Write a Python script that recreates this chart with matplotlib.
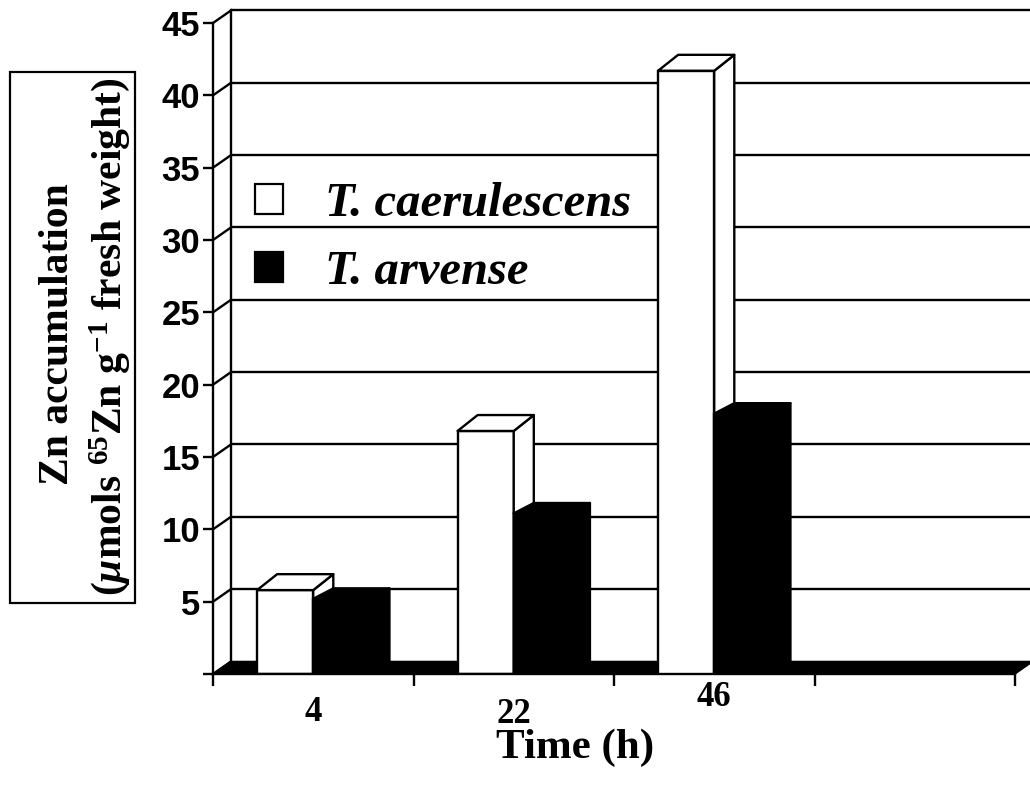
import matplotlib
matplotlib.use('Agg')
import matplotlib.pyplot as plt
from matplotlib.patches import Polygon, Rectangle, Patch
from matplotlib.transforms import offset_copy
import numpy as np

# ---- data ----
categories = ['4', '22', '46']
n_slots = 4
caerulescens = [5.8, 16.8, 41.7]
arvense = [5.2, 11.1, 18.0]
series_names = ['T. caerulescens', 'T. arvense']
yticks = [0, 5, 10, 15, 20, 25, 30, 35, 40, 45]
ytick_labels = ['', '5', '10', '15', '20', '25', '30', '35', '40', '45']
xlabel = 'Time (h)'
ylabel1 = 'Zn accumulation'
ylabel2 = r'($\mu$mols $^{65}$Zn g$^{-1}$ fresh weight)'

plt.rcParams['mathtext.fontset'] = 'custom'
plt.rcParams['mathtext.rm'] = 'Liberation Serif:bold'
plt.rcParams['mathtext.it'] = 'Liberation Serif:italic:bold'
plt.rcParams['mathtext.bf'] = 'Liberation Serif:bold'

W, H = 1030, 789
fig = plt.figure(figsize=(W / 100, H / 100), dpi=100)
fig.patch.set_facecolor('white')

px0, px1 = 213, 1015
py0, py1 = 674, 23
ax = fig.add_axes([px0 / W, 1 - py0 / H, (px1 - px0) / W, (py0 - py1) / H])
ax.set_xlim(0, n_slots)
ax.set_ylim(0, 45)
ax.set_facecolor('none')
for s in ['top', 'right']:
    ax.spines[s].set_visible(False)
lw = 1.7
ax.spines['left'].set_linewidth(lw)
ax.spines['bottom'].set_linewidth(lw)
ax.spines['left'].set_zorder(5)
ax.spines['bottom'].set_zorder(5)

# walls (depth offset)
wdx, wdy = 0.09, 0.87
for v in yticks[1:]:
    ax.plot([wdx, n_slots + 0.2], [v + wdy, v + wdy], color='k', lw=lw,
            clip_on=False, zorder=1, solid_capstyle='butt')
ax.plot([wdx, wdx], [wdy, 45 + wdy], color='k', lw=lw, clip_on=False, zorder=1)
for v in yticks:
    ax.plot([0, wdx], [v, v + wdy], color='k', lw=lw, clip_on=False, zorder=1)
ax.add_patch(Polygon([(0, 0), (n_slots, 0), (n_slots + wdx, wdy), (wdx, wdy)],
                     closed=True, fc='black', ec='black', lw=1, clip_on=False, zorder=2))

# bars
bw = 0.28
bdx = 0.1
centers = np.arange(len(categories)) + 0.5
z = 3
for i, c in enumerate(centers):
    for vals, off, fc, bdy in [(caerulescens, -bw / 2, 'white', 1.1),
                               (arvense, bw / 2, 'black', 0.72)]:
        v = vals[i]
        x = c + off
        ax.bar(x, v, width=bw, color=fc, edgecolor='black', lw=lw, zorder=z)
        top = Polygon([(x - bw / 2, v), (x + bw / 2, v), (x + bw / 2 + bdx, v + bdy),
                       (x - bw / 2 + bdx, v + bdy)], closed=True, fc=fc, ec='black',
                      lw=lw, zorder=z, joinstyle='round')
        side = Polygon([(x + bw / 2, 0), (x + bw / 2 + bdx, bdy), (x + bw / 2 + bdx, v + bdy),
                        (x + bw / 2, v)], closed=True, fc=fc, ec='black', lw=lw, zorder=z,
                       joinstyle='round')
        ax.add_patch(side)
        ax.add_patch(top)
        z += 1

# y ticks
ax.set_yticks(yticks)
ax.set_yticklabels(ytick_labels, fontfamily='Liberation Sans', fontweight='bold', fontsize=25)
ax.tick_params(axis='y', direction='out', length=7.2, width=lw, pad=2)

# x ticks
ax.set_xticks(np.arange(n_slots + 1))
ax.set_xticklabels([])
ax.tick_params(axis='x', direction='out', length=8.5, width=lw)
xlab_drop = [-47, -49, -32]  # px below axis (baseline)
for c, lab, d in zip(centers, categories, xlab_drop):
    tr = offset_copy(ax.get_xaxis_transform(), fig=fig, x=0, y=d, units='dots')
    ax.text(c, 0, lab, transform=tr, ha='center', va='baseline',
            fontfamily='Liberation Serif', fontweight='bold', fontsize=25)

fig.text(575 / W, 1 - 758 / H, xlabel, ha='center', va='baseline',
         fontfamily='Liberation Serif', fontweight='bold', fontsize=31)

# y label box
fig.patches.append(Rectangle((10 / W, 1 - 603 / H), 125 / W, 531 / H, transform=fig.transFigure,
                             fill=False, ec='black', lw=1.6))
fig.text(68 / W, 1 - 334 / H, ylabel1, rotation=90, rotation_mode='anchor',
         ha='center', va='baseline', fontfamily='Liberation Serif', fontweight='bold', fontsize=30)
fig.text(121 / W, 1 - 337 / H, ylabel2, rotation=90, rotation_mode='anchor',
         ha='center', va='baseline', fontfamily='Liberation Serif', fontweight='bold', fontsize=30)

# legend
handles = [Patch(fc='white', ec='black', lw=1.6), Patch(fc='black', ec='black', lw=1.6)]
leg = ax.legend(handles, series_names, loc='upper left',
                bbox_to_anchor=(255 / W, 1 - 182 / H), bbox_transform=fig.transFigure,
                frameon=False, handlelength=0.58, handleheight=0.58, handletextpad=0.87,
                labelspacing=0.5, borderpad=0, borderaxespad=0,
                prop={'family': 'Liberation Serif', 'weight': 'bold', 'style': 'italic', 'size': 35})
leg.set_zorder(20)

fig.savefig('out.png', dpi=100, facecolor='white')
